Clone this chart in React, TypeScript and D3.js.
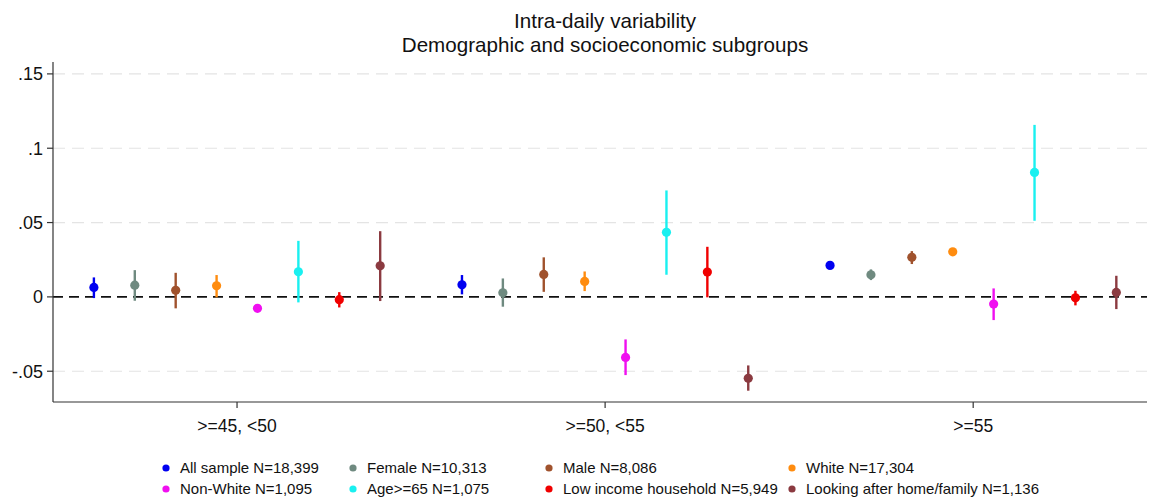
import React from "react";
import * as d3 from "d3";

const groups = [">=45, <50", ">=50, <55", ">=55"];
const seriesNames = [
  "All sample N=18,399",
  "Female N=10,313",
  "Male N=8,086",
  "White N=17,304",
  "Non-White N=1,095",
  "Age>=65 N=1,075",
  "Low income household N=5,949",
  "Looking after home/family N=1,136",
];
const seriesColors = ["#0000f0", "#6f8a80", "#a0522d", "#ff8c0f", "#f00ff0", "#19f0f0", "#f00000", "#8b3a40"];

// estimates per group (rows: groups, cols: series)
const estimates = [
  [0.0064, 0.0079, 0.0044, 0.0075, -0.0077, 0.0169, -0.0019, 0.0209],
  [0.0081, 0.0028, 0.0151, 0.0104, -0.0407, 0.0434, 0.0167, -0.0548],
  [0.0212, 0.0149, 0.0266, 0.0303, -0.0048, 0.0837, -0.0006, 0.003],
];
const lowerCI = [
  [-0.0008, -0.0026, -0.0077, -0.0003, -0.0095, -0.0037, -0.0071, -0.0028],
  [0.0017, -0.0066, 0.0034, 0.0039, -0.0526, 0.0149, -0.0003, -0.0631],
  [0.0195, 0.0113, 0.0221, 0.0288, -0.0156, 0.0512, -0.0057, -0.0082],
];
const upperCI = [
  [0.0131, 0.018, 0.0162, 0.0147, -0.0059, 0.0377, 0.0032, 0.0442],
  [0.0147, 0.0124, 0.0266, 0.0171, -0.0286, 0.0716, 0.0337, -0.0461],
  [0.0229, 0.0185, 0.0308, 0.0318, 0.0057, 0.1157, 0.0041, 0.0142],
];
const yTicks = [-0.05, 0, 0.05, 0.1, 0.15];
const yTickLabels = ["-.05", "0", ".05", ".1", ".15"];

const W = 1151;
const H = 503;
const left = 53;
const right = 1147;
const top = 62;
const bottom = 402;
const font = "Liberation Sans, Arial, sans-serif";

export default function App() {
  const nS = seriesNames.length;
  const x = d3.scaleLinear().domain([-1, 25.75]).range([left, right]);
  const y = d3.scaleLinear().domain([-0.0707, 0.158]).range([bottom, top]);
  const pos = (g: number, s: number) => x(g * (nS + 1) + s);

  const points: any[] = [];
  groups.forEach((_, g) => {
    seriesNames.forEach((_, s) => {
      points.push({ g, s, est: estimates[g][s], lo: lowerCI[g][s], hi: upperCI[g][s] });
    });
  });

  const legendCols = [166, 353, 549, 792];
  const legendRows = [468, 489];

  return (
    <svg width={W} height={H} style={{ position: "absolute", left: 0, top: 0, background: "#fff" }} fontFamily={font}>
      <rect x={0} y={0} width={W} height={H} fill="#fff" />
      <text x={605} y={28} textAnchor="middle" fontSize={20.6} fill="#111">Intra-daily variability</text>
      <text x={605} y={52} textAnchor="middle" fontSize={20.6} fill="#111">Demographic and socioeconomic subgroups</text>

      {yTicks.filter((t) => t !== 0).map((t) => (
        <line key={"g" + t} x1={left} x2={right} y1={y(t)} y2={y(t)} stroke="#e4e4e4" strokeWidth={1.2} strokeDasharray="12,7" />
      ))}
      <line x1={left} x2={right} y1={y(0)} y2={y(0)} stroke="#111" strokeWidth={1.8} strokeDasharray="10,6" />

      <line x1={left} x2={left} y1={top} y2={bottom} stroke="#333" strokeWidth={1.2} />
      <line x1={left} x2={right} y1={bottom} y2={bottom} stroke="#333" strokeWidth={1.2} />
      {yTicks.map((t, i) => (
        <g key={"yt" + t}>
          <line x1={left - 6} x2={left} y1={y(t)} y2={y(t)} stroke="#333" strokeWidth={1.2} />
          <text x={left - 10} y={y(t) + 6.5} textAnchor="end" fontSize={18} fill="#111">{yTickLabels[i]}</text>
        </g>
      ))}
      {groups.map((gname, g) => {
        const cx = x(g * (nS + 1) + (nS - 1) / 2);
        return (
          <g key={gname}>
            <line x1={cx} x2={cx} y1={bottom} y2={bottom + 6} stroke="#333" strokeWidth={1.2} />
            <text x={cx} y={432} textAnchor="middle" fontSize={17.5} fill="#111">{gname}</text>
          </g>
        );
      })}

      {points.map((p) => (
        <g key={p.g + "-" + p.s}>
          <line x1={pos(p.g, p.s)} x2={pos(p.g, p.s)} y1={y(p.lo)} y2={y(p.hi)} stroke={seriesColors[p.s]} strokeWidth={2.4} />
          <circle cx={pos(p.g, p.s)} cy={y(p.est)} r={4.6} fill={seriesColors[p.s]} />
        </g>
      ))}

      {seriesNames.map((name, i) => {
        const col = i % 4;
        const row = Math.floor(i / 4);
        const lx = legendCols[col];
        const ly = legendRows[row];
        return (
          <g key={name}>
            <circle cx={lx} cy={ly} r={3.6} fill={seriesColors[i]} />
            <text x={lx + 14} y={ly + 5} fontSize={15} fill="#111">{name}</text>
          </g>
        );
      })}
    </svg>
  );
}
